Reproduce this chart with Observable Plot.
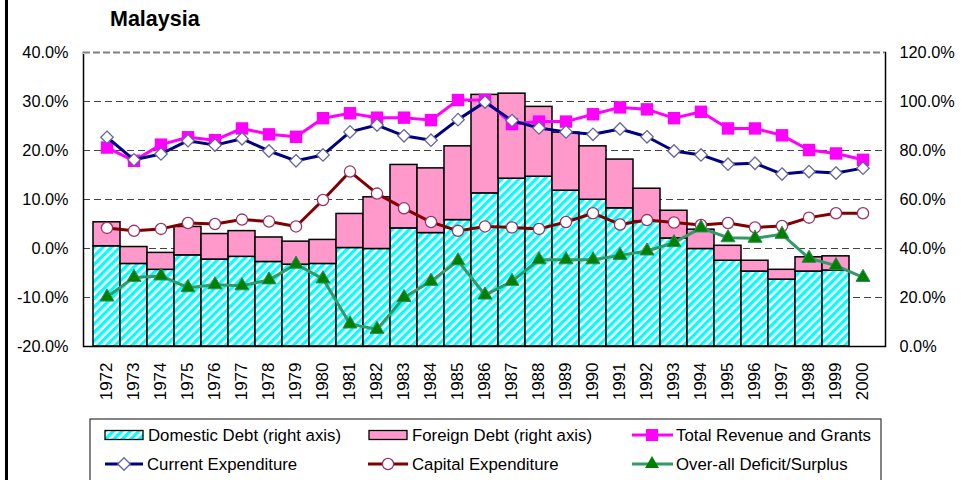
<!DOCTYPE html>
<html>
<head>
<meta charset="utf-8">
<script src="https://cdn.jsdelivr.net/npm/d3@7"></script>
<script src="https://cdn.jsdelivr.net/npm/@observablehq/plot@0.6"></script>
<style>
  html, body { margin: 0; padding: 0; background: #fff; }
  #wrap { position: relative; width: 961px; height: 480px; overflow: hidden; font-family: 'Liberation Sans', Arial, sans-serif; }
  #title { position: absolute; left: 110px; top: 9px; font-size: 21.5px; line-height: 21px; font-weight: bold; color: #000; }
  #border { position: absolute; left: 5px; top: 0; width: 3px; height: 480px; background: #000; }
  #chart { position: absolute; left: 0; top: 0; }
  #legend { position: absolute; left: 0; top: 415px; }
</style>
</head>
<body>
<div id="wrap">
  <div id="border"></div>
  <div id="chart"></div>
  <div id="title">Malaysia</div>
  <div id="legend"></div>
</div>
<script>
// ---- data (left axis, % of GDP) ----
const years = ["1972","1973","1974","1975","1976","1977","1978","1979","1980","1981","1982","1983","1984","1985","1986","1987","1988","1989","1990","1991","1992","1993","1994","1995","1996","1997","1998","1999","2000"];
const revenue    = [20.6,17.9,21.2,22.7,22.1,24.5,23.3,22.8,26.6,27.6,26.7,26.7,26.2,30.3,30.3,25.4,25.9,25.9,27.4,28.8,28.4,26.6,27.9,24.5,24.5,23.1,20.1,19.4,18.1];
const currentExp = [22.7,18.1,19.3,22.0,21.1,22.4,19.9,17.9,19.1,23.8,25.2,23.0,22.1,26.3,29.9,26.1,24.6,23.8,23.3,24.4,22.8,19.9,19.1,17.2,17.4,15.2,15.7,15.4,16.4];
const capitalExp = [4.2,3.6,4.0,5.2,5.0,5.9,5.5,4.5,9.9,15.7,11.2,8.2,5.4,3.6,4.5,4.3,4.0,5.4,7.2,4.9,5.8,5.3,4.8,5.2,4.3,4.6,6.3,7.2,7.2];
const deficit    = [-9.9,-5.9,-5.6,-8.0,-7.4,-7.6,-6.4,-3.2,-6.2,-15.4,-16.5,-10.0,-6.7,-2.5,-9.5,-6.7,-2.3,-2.3,-2.3,-1.4,-0.5,1.2,4.2,2.2,2.1,2.9,-2.0,-3.5,-5.9];
// ---- data (right axis, % of GDP) ----
const domesticDebt = [40.9,33.7,31.3,37.2,35.5,36.6,34.5,33.4,33.7,40.2,39.8,48.2,46.3,51.6,62.5,68.5,69.3,63.6,59.9,56.4,51.0,44.1,39.8,35.0,30.6,27.3,30.6,31.0,null];
const foreignDebt  = [9.8,6.9,6.9,11.6,10.4,10.5,10.0,9.4,9.8,13.9,21.1,25.9,26.4,30.1,40.2,34.7,28.5,23.7,21.8,19.9,13.4,11.3,7.9,6.1,4.4,4.0,5.8,5.8,null];
// ---- axis ticks ----
const leftTicks = [-20,-10,0,10,20,30,40];
const rightTickLabels = ["0.0%","20.0%","40.0%","60.0%","80.0%","100.0%","120.0%"];
const seriesNames = ["Domestic Debt (right axis)","Foreign Debt (right axis)","Total Revenue and Grants","Current Expenditure","Capital Expenditure","Over-all Deficit/Surplus"];

// right axis value -> left axis coordinate
const toLeft = r => r / 2 - 20;

const rows = years.map((year, i) => ({
  year, revenue: revenue[i], current: currentExp[i], capital: capitalExp[i], deficit: deficit[i]
}));
const debtRows = years.map((year, i) => ({year, d: domesticDebt[i], f: foreignDebt[i]})).filter(r => r.d != null);
const domBars = debtRows.map(r => ({year: r.year, y1: toLeft(0), y2: toLeft(r.d)}));
const forBars = debtRows.map(r => ({year: r.year, y1: toLeft(r.d), y2: toLeft(r.d + r.f)}));

const chart = Plot.plot({
  width: 961, height: 415,
  marginTop: 52, marginBottom: 69, marginLeft: 83, marginRight: 76,
  style: {fontFamily: "'Liberation Sans', Arial, sans-serif", fontSize: "16px", color: "#000", background: "transparent", overflow: "visible"},
  x: {type: "band", domain: years, padding: 0, label: null},
  y: {domain: [-20, 40], label: null},
  marks: [
    Plot.ruleY([-10, 0, 10, 20, 30], {stroke: "#444", strokeWidth: 1, strokeDasharray: "7,4"}),
    Plot.barY(domBars, {x: "year", y1: "y1", y2: "y2", fill: "url(#hatch)", stroke: "#000", strokeWidth: 1.5}),
    Plot.barY(forBars, {x: "year", y1: "y1", y2: "y2", fill: "#FF99CC", stroke: "#000", strokeWidth: 1.5}),
    Plot.frame({stroke: "#000", strokeWidth: 1.5}),
    Plot.ruleY([40], {stroke: "#fff", strokeWidth: 3}),
    Plot.ruleY([40], {stroke: "#808080", strokeWidth: 2, strokeDasharray: "7,3"}),
    Plot.line(rows, {x: "year", y: "revenue", stroke: "#FF00FF", strokeWidth: 3}),
    Plot.dot(rows, {x: "year", y: "revenue", symbol: "square", r: 7, fill: "#FF00FF"}),
    Plot.line(rows, {x: "year", y: "current", stroke: "#000080", strokeWidth: 3}),
    Plot.dot(rows, {x: "year", y: "current", symbol: "diamond2", r: 5.6, fill: "#fff", stroke: "#666699", strokeWidth: 1.3}),
    Plot.line(rows, {x: "year", y: "capital", stroke: "#800000", strokeWidth: 3}),
    Plot.dot(rows, {x: "year", y: "capital", symbol: "circle", r: 5.6, fill: "#fff", stroke: "#993366", strokeWidth: 1.3}),
    Plot.line(rows, {x: "year", y: "deficit", stroke: "#339966", strokeWidth: 3}),
    Plot.dot(rows, {x: "year", y: "deficit", symbol: "triangle", r: 5.2, fill: "#008000", stroke: "#2e8b57", strokeWidth: 1}),
    Plot.axisY({anchor: "left", ticks: leftTicks, tickFormat: d => d.toFixed(1) + "%", tickSize: 0, tickPadding: 15, fontSize: 16.3, label: null}),
    Plot.axisY({anchor: "right", ticks: leftTicks, tickFormat: d => rightTickLabels[leftTicks.indexOf(d)], tickSize: 0, tickPadding: 14, fontSize: 16.3, label: null}),
    Plot.axisX({anchor: "bottom", tickRotate: -90, tickSize: 0, tickPadding: 16, fontSize: 17, label: null})
  ]
});

// hatch pattern for domestic debt
const NS = "http://www.w3.org/2000/svg";
const defs = document.createElementNS(NS, "defs");
defs.innerHTML = '<pattern id="hatch" patternUnits="userSpaceOnUse" width="6" height="6" patternTransform="rotate(45)">' +
  '<rect width="6" height="6" fill="#fff"/><rect width="3.3" height="6" fill="#00FFFF"/></pattern>';
chart.insertBefore(defs, chart.firstChild);
document.getElementById("chart").appendChild(chart);

// legend
const leg = d3.select("#legend").append("svg").attr("width", 961).attr("height", 65)
  .style("font-family", "'Liberation Sans', Arial, sans-serif").style("font-size", "16.8px");
leg.append("defs").html('<pattern id="hatch2" patternUnits="userSpaceOnUse" width="6" height="6" patternTransform="rotate(45)">' +
  '<rect width="6" height="6" fill="#fff"/><rect width="3.3" height="6" fill="#00FFFF"/></pattern>');
leg.append("rect").attr("x", 90).attr("y", 4).attr("width", 791).attr("height", 90).attr("fill", "#fff").attr("stroke", "#333").attr("stroke-width", 1.2);
const r1 = 20, r2 = 49;
// row 1
leg.append("rect").attr("x", 105).attr("y", r1 - 4.5).attr("width", 38).attr("height", 9).attr("fill", "url(#hatch2)").attr("stroke", "#000").attr("stroke-width", 1.3);
leg.append("rect").attr("x", 369).attr("y", r1 - 4.5).attr("width", 38).attr("height", 9).attr("fill", "#FF99CC").attr("stroke", "#000").attr("stroke-width", 1.3);
leg.append("line").attr("x1", 632).attr("x2", 673).attr("y1", r1).attr("y2", r1).attr("stroke", "#FF00FF").attr("stroke-width", 3);
leg.append("rect").attr("x", 646).attr("y", r1 - 6).attr("width", 12).attr("height", 12).attr("fill", "#FF00FF");
// row 2
leg.append("line").attr("x1", 105).attr("x2", 143).attr("y1", r2).attr("y2", r2).attr("stroke", "#000080").attr("stroke-width", 3);
leg.append("path").attr("d", d3.symbol(d3.symbolDiamond2, 5.6 * 5.6 * Math.PI)()).attr("transform", `translate(124,${r2})`).attr("fill", "#fff").attr("stroke", "#666699").attr("stroke-width", 1.3);
leg.append("line").attr("x1", 368).attr("x2", 408).attr("y1", r2).attr("y2", r2).attr("stroke", "#800000").attr("stroke-width", 3);
leg.append("circle").attr("cx", 388).attr("cy", r2).attr("r", 5.6).attr("fill", "#fff").attr("stroke", "#993366").attr("stroke-width", 1.3);
leg.append("line").attr("x1", 632).attr("x2", 673).attr("y1", r2).attr("y2", r2).attr("stroke", "#339966").attr("stroke-width", 3);
leg.append("path").attr("d", d3.symbol(d3.symbolTriangle, 5.2 * 5.2 * Math.PI)()).attr("transform", `translate(652,${r2})`).attr("fill", "#008000");
const textPos = [[148, r1], [412, r1], [676, r1], [147, r2], [412, r2], [676, r2]];
seriesNames.forEach((name, i) => {
  leg.append("text").attr("x", textPos[i][0]).attr("y", textPos[i][1]).attr("dy", "0.35em").attr("fill", "#000").text(name);
});
</script>
</body>
</html>
